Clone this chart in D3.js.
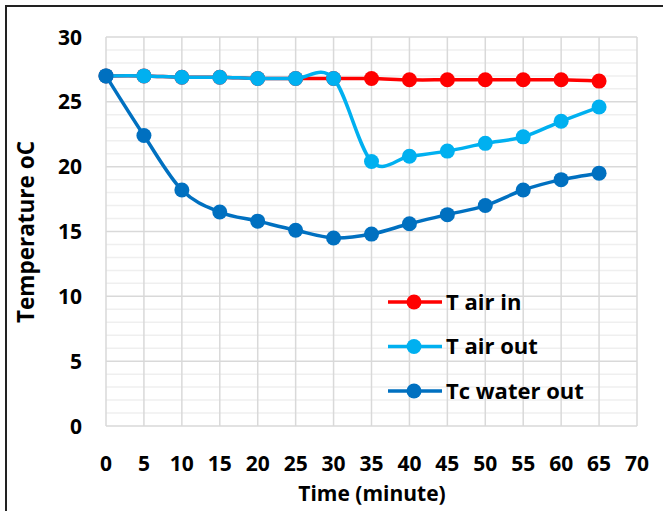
<!DOCTYPE html>
<html>
<head>
<meta charset="utf-8">
<script src="https://d3js.org/d3.v7.min.js"></script>
<style>
	body { margin: 0; background: #fff; }
	svg { display: block; font-family: "Open Sans", Lato, sans-serif; font-weight: bold; }
</style>
</head>
<body>
<svg id="chart" width="663" height="511"></svg>
<script>
// data
var times = [0, 5, 10, 15, 20, 25, 30, 35, 40, 45, 50, 55, 60, 65];
var tAirIn = [27, 27, 26.9, 26.9, 26.8, 26.8, 26.8, 26.8, 26.7, 26.7, 26.7, 26.7, 26.7, 26.6];
var tAirOut = [27, 27, 26.9, 26.9, 26.8, 26.8, 26.8, 20.4, 20.8, 21.2, 21.8, 22.3, 23.5, 24.6];
var tcWaterOut = [27, 22.4, 18.2, 16.5, 15.8, 15.1, 14.5, 14.8, 15.6, 16.3, 17.0, 18.2, 19.0, 19.5];
var seriesNames = ["T air in", "T air out", "Tc water out"];
var seriesColors = ["#ff0000", "#00b0f0", "#0070c0"];
var xTicks = d3.range(0, 71, 5);
var yTicks = d3.range(0, 31, 5);

var svg = d3.select("#chart");

// outer frame (only left and top are visible in the picture)
svg.append("path")
	.attr("d", "M6,511V6H663")
	.attr("fill", "none")
	.attr("stroke", "#222")
	.attr("stroke-width", 2);

var plotLeft = 106, plotRight = 637, plotTop = 37, plotBottom = 426;
var x = d3.scaleLinear().domain([0, 70]).range([plotLeft, plotRight]);
var y = d3.scaleLinear().domain([0, 30]).range([plotBottom, plotTop]);

// minor horizontal grid
svg.append("g").selectAll("line")
	.data(d3.range(0, 31, 1).filter(function(d){ return d % 5 !== 0; }))
	.enter().append("line")
	.attr("x1", plotLeft).attr("x2", plotRight)
	.attr("y1", function(d){ return y(d); })
	.attr("y2", function(d){ return y(d); })
	.style("stroke", "#efefef")
	.style("stroke-width", 1.5);

// major grid
svg.append("g").selectAll("line")
	.data(yTicks)
	.enter().append("line")
	.attr("x1", plotLeft).attr("x2", plotRight)
	.attr("y1", function(d){ return y(d); })
	.attr("y2", function(d){ return y(d); })
	.style("stroke", "#d9d9d9")
	.style("stroke-width", 1.5);

svg.append("g").selectAll("line")
	.data(xTicks)
	.enter().append("line")
	.attr("y1", plotTop).attr("y2", plotBottom)
	.attr("x1", function(d){ return x(d); })
	.attr("x2", function(d){ return x(d); })
	.style("stroke", "#d9d9d9")
	.style("stroke-width", 1.5);

// tick labels
svg.append("g").selectAll("text")
	.data(yTicks)
	.enter().append("text")
	.attr("x", 82)
	.attr("y", function(d){ return y(d); })
	.attr("dy", "0.36em")
	.attr("text-anchor", "end")
	.style("font-size", "21px")
	.text(function(d){ return d; });

svg.append("g").selectAll("text")
	.data(xTicks)
	.enter().append("text")
	.attr("x", function(d){ return x(d); })
	.attr("y", 463)
	.attr("dy", "0.36em")
	.attr("text-anchor", "middle")
	.style("font-size", "21px")
	.text(function(d){ return d; });

// axis titles
svg.append("text")
	.attr("transform", "translate(34,232) rotate(-90)")
	.attr("text-anchor", "middle")
	.style("font-size", "22.5px")
	.text("Temperature oC");

svg.append("text")
	.attr("x", 372)
	.attr("y", 501)
	.attr("text-anchor", "middle")
	.style("font-size", "21px")
	.text("Time (minute)");

// series
var allSeries = [tAirIn, tAirOut, tcWaterOut];
var line = d3.line()
	.x(function(d){ return x(d[0]); })
	.y(function(d){ return y(d[1]); })
	.curve(d3.curveCardinal.tension(0));

allSeries.forEach(function(vals, s){
	var pts = times.map(function(t, i){ return [t, vals[i]]; });
	var g = svg.append("g");
	g.append("path")
		.attr("d", line(pts))
		.attr("fill", "none")
		.style("stroke", seriesColors[s])
		.style("stroke-width", 3.5);
	g.selectAll("circle").data(pts).enter().append("circle")
		.attr("cx", function(d){ return x(d[0]); })
		.attr("cy", function(d){ return y(d[1]); })
		.attr("r", 7.5)
		.style("fill", seriesColors[s]);
});

// legend
var legend = svg.append("g").selectAll("g")
	.data(seriesNames)
	.enter().append("g")
	.attr("transform", function(d, i){ return "translate(0," + (302 + i * 44.5) + ")"; });

legend.append("line")
	.attr("x1", 388).attr("x2", 442)
	.style("stroke", function(d, i){ return seriesColors[i]; })
	.style("stroke-width", 3.5);
legend.append("circle")
	.attr("cx", 414).attr("r", 7.5)
	.style("fill", function(d, i){ return seriesColors[i]; });
legend.append("text")
	.attr("x", 446)
	.attr("dy", "0.36em")
	.style("font-size", "22px")
	.text(function(d){ return d; });
</script>
</body>
</html>
